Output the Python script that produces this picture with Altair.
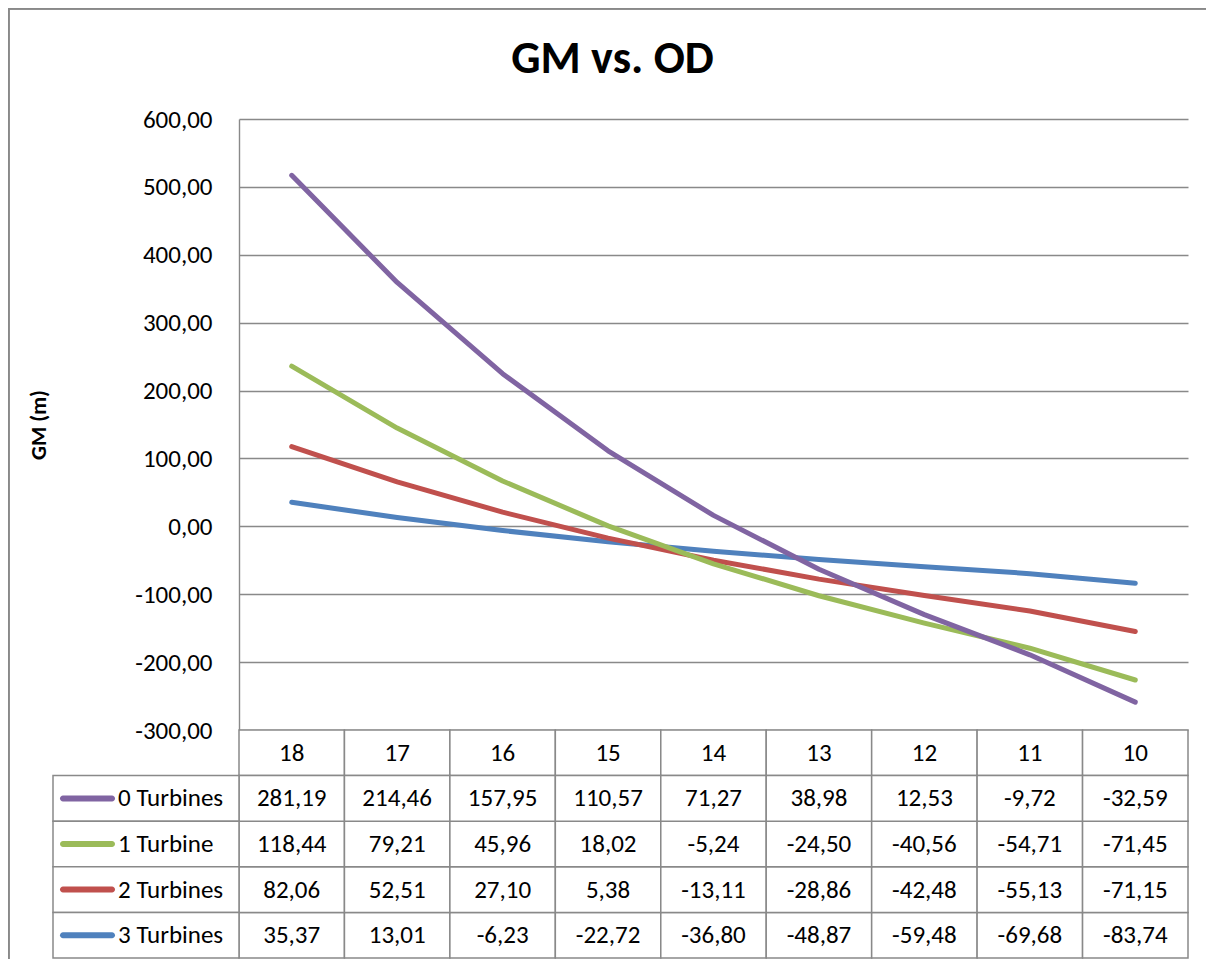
import altair as alt
import pandas as pd

categories = ["18", "17", "16", "15", "14", "13", "12", "11", "10"]
series = ["0 Turbines", "1 Turbine", "2 Turbines", "3 Turbines"]
colors = ["#8064A2", "#9BBB59", "#C0504D", "#4F81BD"]
vals_0 = [281.19, 214.46, 157.95, 110.57, 71.27, 38.98, 12.53, -9.72, -32.59]
vals_1 = [118.44, 79.21, 45.96, 18.02, -5.24, -24.50, -40.56, -54.71, -71.45]
vals_2 = [82.06, 52.51, 27.10, 5.38, -13.11, -28.86, -42.48, -55.13, -71.15]
vals_3 = [35.37, 13.01, -6.23, -22.72, -36.80, -48.87, -59.48, -69.68, -83.74]
y_ticks = [-300, -200, -100, 0, 100, 200, 300, 400, 500, 600]
header_key = "OD"
legend_key = "legend"

# ---- layout / style ----
FONT = "Carlito, Calibri, Lato, sans-serif"
GRID = "#898989"
PLOT_W, PLOT_H = 949, 611
TABLE_H = 228
LEG_W = 186
PAD_L, PAD_T, PAD_R, PAD_B = 231, 111, 18, 229
TXT = 25

all_vals = [vals_0, vals_1, vals_2, vals_3]
rows = []
for si in [3, 2, 1, 0]:
    for ci, c in enumerate(categories):
        v = all_vals[si][ci]
        rows.append({
            "cat": c,
            "series": series[si],
            "sidx": si,
            "value": v,
            "label": f"{v:.2f}".replace(".", ","),
        })
df = pd.DataFrame(rows)
hdr = pd.DataFrame({"cat": categories, "row": [header_key] * len(categories)})
leg = pd.DataFrame({"series": series, "col": [legend_key] * len(series)})

x_band = alt.Scale(type="band", domain=categories, paddingInner=0, paddingOuter=0)
row_band = alt.Scale(type="band", domain=[header_key] + series,
                     range=[PLOT_H, PLOT_H + TABLE_H], paddingInner=0, paddingOuter=0)
leg_band = alt.Scale(type="band", domain=[legend_key], range=[-LEG_W, 0],
                     paddingInner=0, paddingOuter=0)
swatch_band = alt.Scale(type="band", domain=[legend_key], range=[-LEG_W + 7, -LEG_W + 62],
                        paddingInner=0, paddingOuter=0)
color_scale = alt.Scale(domain=series, range=colors)

label_expr = "replace(replace(format(datum.value, '.2f'), '.', ','), '\u2212', '-')"

lines = alt.Chart(df).transform_window(
    cum="sum(value)",
    groupby=["cat"],
    sort=[alt.SortField("sidx", order="descending")],
    frame=[None, 0],
).mark_line(strokeWidth=5, strokeCap="round", strokeJoin="round").encode(
    x=alt.X("cat:N", scale=x_band, bandPosition=0.5, axis=None),
    y=alt.Y(
        "cum:Q",
        scale=alt.Scale(domain=[-300, 600], nice=False, zero=False),
        axis=alt.Axis(
            values=y_ticks, labelExpr=label_expr, ticks=False, tickSize=0,
            labelPadding=27, labelFont=FONT, labelFontSize=TXT, labelColor="black",
            grid=True, gridColor=GRID, gridWidth=1.4,
            domainColor=GRID, domainWidth=1.4,
            title="GM (m)", titleFont=FONT, titleFontSize=22, titleFontWeight="bold",
            titleColor="black", titleX=-189, titleY=PLOT_H / 2,
        ),
    ),
    color=alt.Color("series:N", scale=color_scale, legend=None),
)

cells = alt.Chart(df).mark_rect(fill="white", stroke=GRID, strokeWidth=1.5).encode(
    x=alt.X("cat:N", scale=x_band, axis=None),
    y=alt.Y("series:N", scale=row_band, axis=None),
)
cell_text = alt.Chart(df).mark_text(font=FONT, fontSize=TXT, color="black",
                                    align="center", baseline="middle").encode(
    x=alt.X("cat:N", scale=x_band, bandPosition=0.5, axis=None),
    y=alt.Y("series:N", scale=row_band, bandPosition=0.5, axis=None),
    text="label:N",
)

hdr_cells = alt.Chart(hdr).mark_rect(fill="white", stroke=GRID, strokeWidth=1.5).encode(
    x=alt.X("cat:N", scale=x_band, axis=None),
    y=alt.Y("row:N", scale=row_band, axis=None),
)
hdr_text = alt.Chart(hdr).mark_text(font=FONT, fontSize=TXT, color="black",
                                    align="center", baseline="middle").encode(
    x=alt.X("cat:N", scale=x_band, bandPosition=0.5, axis=None),
    y=alt.Y("row:N", scale=row_band, bandPosition=0.5, axis=None),
    text="cat:N",
)

leg_cells = alt.Chart(leg).mark_rect(fill="white", stroke=GRID, strokeWidth=1.5).encode(
    x=alt.X("col:N", scale=leg_band, axis=None),
    y=alt.Y("series:N", scale=row_band, axis=None),
)
leg_swatch = alt.Chart(leg).mark_tick(orient="horizontal", size=55, thickness=6,
                                      cornerRadius=3, opacity=1).encode(
    x=alt.X("col:N", scale=swatch_band, axis=None),
    y=alt.Y("series:N", scale=row_band, bandPosition=0.5, axis=None),
    color=alt.Color("series:N", scale=color_scale, legend=None),
)
leg_text = alt.Chart(leg).mark_text(font=FONT, fontSize=TXT, color="black",
                                    align="left", baseline="middle").encode(
    x=alt.X("col:N", scale=leg_band, bandPosition=0.35, axis=None),
    y=alt.Y("series:N", scale=row_band, bandPosition=0.5, axis=None),
    text="series:N",
)

# chart-area frame (left and top edges, as in the reference)
frame_left = alt.Chart(hdr).mark_rule(color=GRID, strokeWidth=1.5).encode(
    x=alt.value(-PAD_L + 0.5), y=alt.value(-PAD_T + 0.5), y2=alt.value(PLOT_H + PAD_B)
)
frame_top = alt.Chart(hdr).mark_rule(color=GRID, strokeWidth=1.5).encode(
    x=alt.value(-PAD_L + 0.5), x2=alt.value(PLOT_W + PAD_R), y=alt.value(-PAD_T + 0.5)
)

chart = alt.layer(
    frame_left, frame_top,
    hdr_cells, cells, leg_cells, lines, hdr_text, cell_text, leg_swatch, leg_text
).resolve_scale(
    x="independent", y="independent"
).properties(
    width=PLOT_W,
    height=PLOT_H,
    title=alt.Title("GM vs. OD", font=FONT, fontSize=46, fontWeight="bold",
                    color="black", anchor="middle", dx=-101, dy=146, offset=35,
                    baseline="alphabetic"),
    autosize=alt.AutoSizeParams(type="none"),
    padding={"left": PAD_L, "top": PAD_T, "right": PAD_R, "bottom": PAD_B},
).configure_view(stroke=None)

chart.save("out.html", embed_options={"renderer": "svg", "actions": False})
